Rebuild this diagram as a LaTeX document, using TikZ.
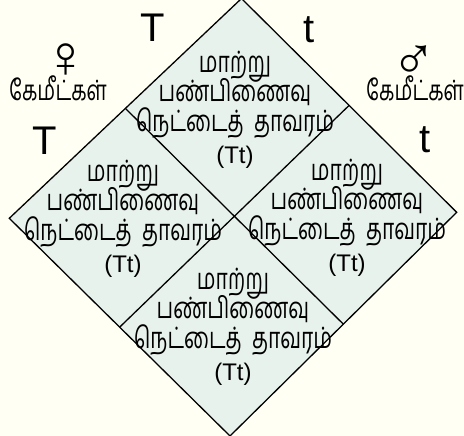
\documentclass[tikz,border=0pt]{standalone}
\usepackage{fontspec}
\usetikzlibrary{calc}
\setmainfont{Liberation Sans}
\newfontfamily\tamilfont[Script=Tamil]{Hind Madurai}
\newfontfamily\latfont{Liberation Sans}
\definecolor{bgc}{HTML}{FFFFF3}
\definecolor{cellc}{HTML}{E7F2EC}
\newcommand{\tamline}[1]{\smash{\scalebox{1}[1.4]{#1}}}
\newcommand{\celltxt}{\tamline{மாற்று}\\\tamline{பண்பிணைவு}\\\tamline{நெட்டைத்~~தாவரம்}\\[3pt]{\latfont\fontsize{24}{24}\selectfont (Tt)}}
\begin{document}
\begin{tikzpicture}[x=1pt,y=-1pt,
  border/.style={draw=black,line width=1.3pt,line join=miter},
  celltext/.style={anchor=north,align=center,inner sep=0pt,font=\tamilfont\fontsize{21}{29.5}\selectfont},
  allele/.style={anchor=base,inner sep=0pt,font=\latfont\fontsize{40}{40}\selectfont},
  sexsym/.style={inner sep=0pt,font=\latfont\fontsize{60}{60}\selectfont},
  gamete/.style={inner sep=0pt,anchor=base,font=\tamilfont\fontsize{20}{24}\selectfont}]
\useasboundingbox (0,0) rectangle (464,436);
\fill[bgc] (0,0) rectangle (464,436);
\coordinate (T) at (241.5,-1.5);
\coordinate (R) at (456.7,212.3);
\coordinate (B) at (230,436);
\coordinate (L) at (9.3,218.3);
\coordinate (TL) at ($(T)!0.5!(L)$);
\coordinate (TR) at ($(T)!0.5!(R)$);
\coordinate (BL) at ($(B)!0.5!(L)$);
\coordinate (BR) at ($(B)!0.5!(R)$);
\fill[cellc] (T) -- (R) -- (B) -- (L) -- cycle;
\draw[border] (T) -- (R) -- (B) -- (L) -- cycle;
\draw[border] (TL) -- (BR);
\draw[border] (TR) -- (BL);
% cell texts
\node[celltext] (ctop) at (235,72) {\celltxt};
\node[celltext] (cleft) at (123,181) {\celltxt};
\node[celltext] (cright) at (347,180) {\celltxt};
\node[celltext] (cbot) at (233,289) {\celltxt};
% alleles
\node[allele] (aT1) at (152.5,42) {T};
\node[allele] (at1) at (309,43) {t};
\node[allele] (aT2) at (44.5,154) {T};
\node[allele] (at2) at (425,153) {t};
% gametes
\node[sexsym] (fem) at (66,61) {♀};
\node[sexsym] (mal) at (414,63) {♂};
\node[gamete] (gl) at (58,101) {\scalebox{1}[1.4]{கேமீட்கள்}};
\node[gamete] (gr) at (415,101) {\scalebox{1}[1.4]{கேமீட்கள்}};
\end{tikzpicture}
\end{document}
